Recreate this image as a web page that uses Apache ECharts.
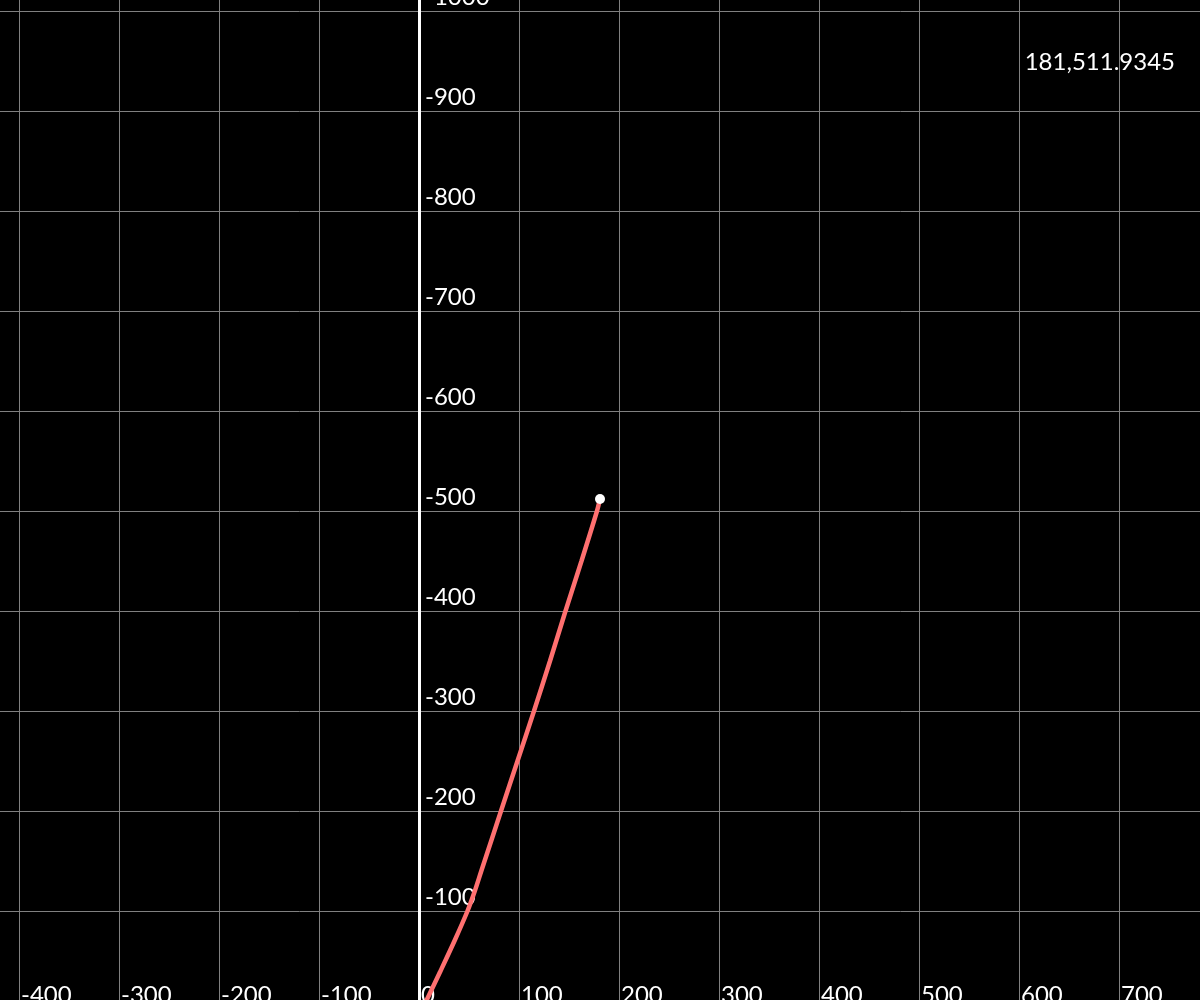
<!DOCTYPE html>
<html>
<head>
<meta charset="utf-8">
<title>curve</title>
<script src="https://cdn.jsdelivr.net/npm/echarts@6/dist/echarts.min.js"></script>
<style>
  html, body { margin: 0; padding: 0; background: #000; }
  #main { width: 1200px; height: 1000px; }
</style>
</head>
<body>
<div id="main"></div>
<script>
// curve points (plot units, y up)
var curveX = [2.5, 7.7, 21.5, 35.9, 48.5, 55.8, 62.3, 72.5, 82, 98.5, 115, 131, 146.5, 162.5, 178, 181];
var curveY = [0, 11, 40, 71, 100, 120, 140, 171, 200, 250, 300, 350, 400, 450, 500, 511.9345];
// last point, marked with a dot
var endX = 181;
var endY = 511.9345;
// tick labels
var xLabels = [-400, -300, -200, -100, 0, 100, 200, 300, 400, 500, 600, 700];
var yLabels = [100, 200, 300, 400, 500, 600, 700, 800, 900, 1000];

var chart = echarts.init(document.getElementById('main'));

var font = 'Lato';
var fontSize = 24;
var gridColor = '#808080';

chart.setOption({
  backgroundColor: '#000',
  animation: false,
  // grid runs past the window edges so that 0,0 sits at (419, 1011)
  grid: {
    left: -81,
    right: -19,
    top: -89,
    bottom: -11,
    containLabel: false,
    outerBoundsMode: 'none'
  },
  xAxis: {
    type: 'value',
    min: -500,
    max: 800,
    interval: 100,
    axisLine: { show: false },
    axisTick: { show: false },
    splitLine: { show: true, lineStyle: { color: gridColor, width: 1 } },
    axisLabel: {
      inside: true,
      customValues: xLabels,
      color: '#fff',
      fontFamily: font,
      fontSize: fontSize,
      align: 'left',
      verticalAlign: 'bottom',
      margin: 4,
      padding: [0, 0, 0, 2]
    }
  },
  yAxis: {
    type: 'value',
    min: 0,
    max: 1100,
    interval: 100,
    // move the axis from the grid edge (-81) to x = 0 (419)
    offset: -500,
    axisLine: { show: true, onZero: false, lineStyle: { color: '#fff', width: 3 } },
    axisTick: { show: false },
    splitLine: { show: true, lineStyle: { color: gridColor, width: 1 } },
    axisLabel: {
      inside: true,
      customValues: yLabels,
      // canvas style y, printed with a minus
      formatter: function (v) { return '-' + v; },
      color: '#fff',
      fontFamily: font,
      fontSize: fontSize,
      align: 'left',
      verticalAlign: 'bottom',
      margin: 6,
      padding: [0, 0, 2, 0]
    }
  },
  graphic: [{
    type: 'text',
    x: 1175,
    y: 74,
    style: {
      text: endX + ',' + endY,
      fill: '#fff',
      font: fontSize + 'px Lato',
      align: 'right',
      verticalAlign: 'bottom'
    }
  }],
  series: [
    {
      type: 'line',
      data: curveX.map(function (x, i) { return [x, curveY[i]]; }),
      showSymbol: false,
      smooth: 0.3,
      lineStyle: { color: '#ff7070', width: 4.5 },
      z: 3
    },
    {
      type: 'scatter',
      data: [[endX, endY]],
      symbolSize: 10,
      itemStyle: { color: '#fff', opacity: 1 },
      z: 4
    }
  ]
});
</script>
</body>
</html>
